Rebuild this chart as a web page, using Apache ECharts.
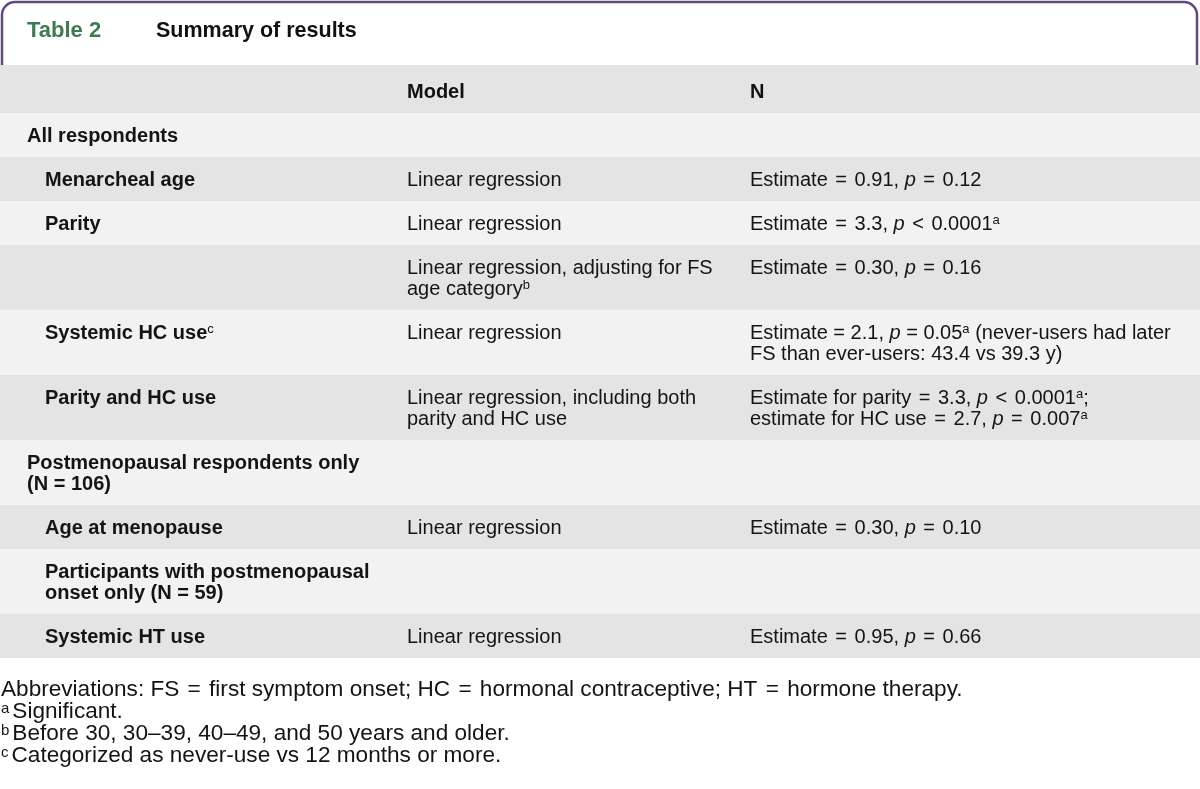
<!DOCTYPE html>
<html>
<head>
<meta charset="utf-8">
<script src="https://cdn.jsdelivr.net/npm/echarts@6/dist/echarts.min.js"></script>
<style>
html,body{margin:0;padding:0;background:#fff;}
#chart{width:1200px;height:789px;}
</style>
</head>
<body>
<div id="chart"></div>
<script>
// ---- data ----
const tableNumber = 'Table 2';
const tableTitle = 'Summary of results';
const columnHeaders = ['', 'Model', 'N'];
const rowLabels = [
  'All respondents',
  'Menarcheal age',
  'Parity',
  '',
  'Systemic HC use{sup|c}',
  'Parity and HC use',
  'Postmenopausal respondents only\n(N = 106)',
  'Age at menopause',
  'Participants with postmenopausal\nonset only (N = 59)',
  'Systemic HT use'
];
const rowIndent = [0, 1, 1, 1, 1, 1, 0, 1, 1, 1];
const rowModels = [
  '',
  'Linear regression',
  'Linear regression',
  'Linear regression, adjusting for FS\nage category{sup|b}',
  'Linear regression',
  'Linear regression, including both\nparity and HC use',
  '',
  'Linear regression',
  '',
  'Linear regression'
];
const rowResults = [
  '',
  'Estimate {eq|=} 0.91, {i|p} {eq|=} 0.12',
  'Estimate {eq|=} 3.3, {i|p} {eq|<} 0.0001{sup|a}',
  'Estimate {eq|=} 0.30, {i|p} {eq|=} 0.16',
  'Estimate = 2.1, {i|p} = 0.05{sup|a} (never-users had later\nFS than ever-users: 43.4 vs 39.3 y)',
  'Estimate for parity {eq|=} 3.3, {i|p} {eq|<} 0.0001{sup|a};\nestimate for HC use {eq|=} 2.7, {i|p} {eq|=} 0.007{sup|a}',
  '',
  'Estimate {eq|=} 0.30, {i|p} {eq|=} 0.10',
  '',
  'Estimate {eq|=} 0.95, {i|p} {eq|=} 0.66'
];
const footnotes = [
  'Abbreviations: FS {feq|=} first symptom onset; HC {feq|=} hormonal contraceptive; HT {feq|=} hormone therapy.',
  '{fsup|a}Significant.',
  '{fsup|b}Before 30, 30–39, 40–49, and 50 years and older.',
  '{fsup|c}Categorized as never-use vs 12 months or more.'
];

// ---- layout / style ----
const FONT = '"Liberation Sans", Arial, sans-serif';
const FS = 20, LH = 21, FFS = 22.6;
const colX = [27, 407, 750];
const indentX = 45;
const headerTop = 65, headerH = 48;
const lightBg = '#f2f2f2', darkBg = '#e4e4e4';
const textColor = '#141414';
const rich = {
  i: { fontStyle: 'italic', fontSize: FS, fontFamily: FONT, lineHeight: LH, fill: textColor },
  eq: { fontSize: FS, fontFamily: FONT, lineHeight: LH, fill: textColor, padding: [0, 2, 0, 2] },
  sup: { fontSize: 13, fontFamily: FONT, lineHeight: 12, verticalAlign: 'top', fontWeight: 'normal', fill: textColor },
  fsup: { fontSize: 15, fontFamily: FONT, lineHeight: 12, verticalAlign: 'top', fill: textColor, padding: [0, 3, 0, 0] },
  feq: { fontSize: FFS, fontFamily: FONT, lineHeight: 22, fill: textColor, padding: [0, 2, 0, 2] }
};

function lines(s) { return s ? s.split('\n').length : 1; }

const g = [];
// title box
g.push({ type: 'rect', z: 1, shape: { x: 2, y: 2, width: 1195, height: 80, r: [13, 13, 0, 0] },
  style: { fill: '#fff', stroke: '#5e4b7d', lineWidth: 2.5 } });
g.push({ type: 'text', z: 5, x: 27, y: 31, style: { text: tableNumber, fontSize: 22, fontWeight: 'bold', fontFamily: FONT, fill: '#3f7a50', verticalAlign: 'middle' } });
g.push({ type: 'text', z: 5, x: 156, y: 31, style: { text: tableTitle, fontSize: 21.5, fontWeight: 'bold', fontFamily: FONT, fill: '#111', verticalAlign: 'middle' } });

// header row
g.push({ type: 'rect', z: 2, shape: { x: 0, y: headerTop, width: 1200, height: headerH }, style: { fill: darkBg } });
columnHeaders.forEach((h, c) => {
  if (!h) return;
  g.push({ type: 'text', z: 5, x: colX[c], y: headerTop + 27, style: { text: h, fontSize: FS, fontWeight: 'bold', fontFamily: FONT, fill: '#111', verticalAlign: 'middle' } });
});

// body rows
let y = headerTop + headerH;
rowLabels.forEach((lab, i) => {
  const n = Math.max(lines(lab), lines(rowModels[i]), lines(rowResults[i]));
  const h = LH * n + 23;
  g.push({ type: 'rect', z: 2, shape: { x: 0, y: y, width: 1200, height: h }, style: { fill: i % 2 === 0 ? lightBg : darkBg } });
  const ty = y + 13;
  if (lab) g.push({ type: 'text', z: 5, x: rowIndent[i] ? indentX : colX[0], y: ty,
    style: { text: lab, fontSize: FS, fontWeight: 'bold', fontFamily: FONT, lineHeight: LH, fill: textColor, verticalAlign: 'top', rich: rich } });
  if (rowModels[i]) g.push({ type: 'text', z: 5, x: colX[1], y: ty,
    style: { text: rowModels[i], fontSize: FS, fontFamily: FONT, lineHeight: LH, fill: textColor, verticalAlign: 'top', rich: rich } });
  if (rowResults[i]) g.push({ type: 'text', z: 5, x: colX[2], y: ty,
    style: { text: rowResults[i], fontSize: FS, fontFamily: FONT, lineHeight: LH, fill: textColor, verticalAlign: 'top', rich: rich } });
  y += h;
});

// footnotes
footnotes.forEach((f, k) => {
  g.push({ type: 'text', z: 5, x: 1, y: 679 + k * 22,
    style: { text: f, fontSize: FFS, fontFamily: FONT, lineHeight: 22, fill: textColor, verticalAlign: 'top', rich: rich } });
});

const chart = echarts.init(document.getElementById('chart'), null, { renderer: 'canvas' });
chart.setOption({ backgroundColor: '#fff', animation: false, graphic: { elements: g } });
</script>
</body>
</html>
